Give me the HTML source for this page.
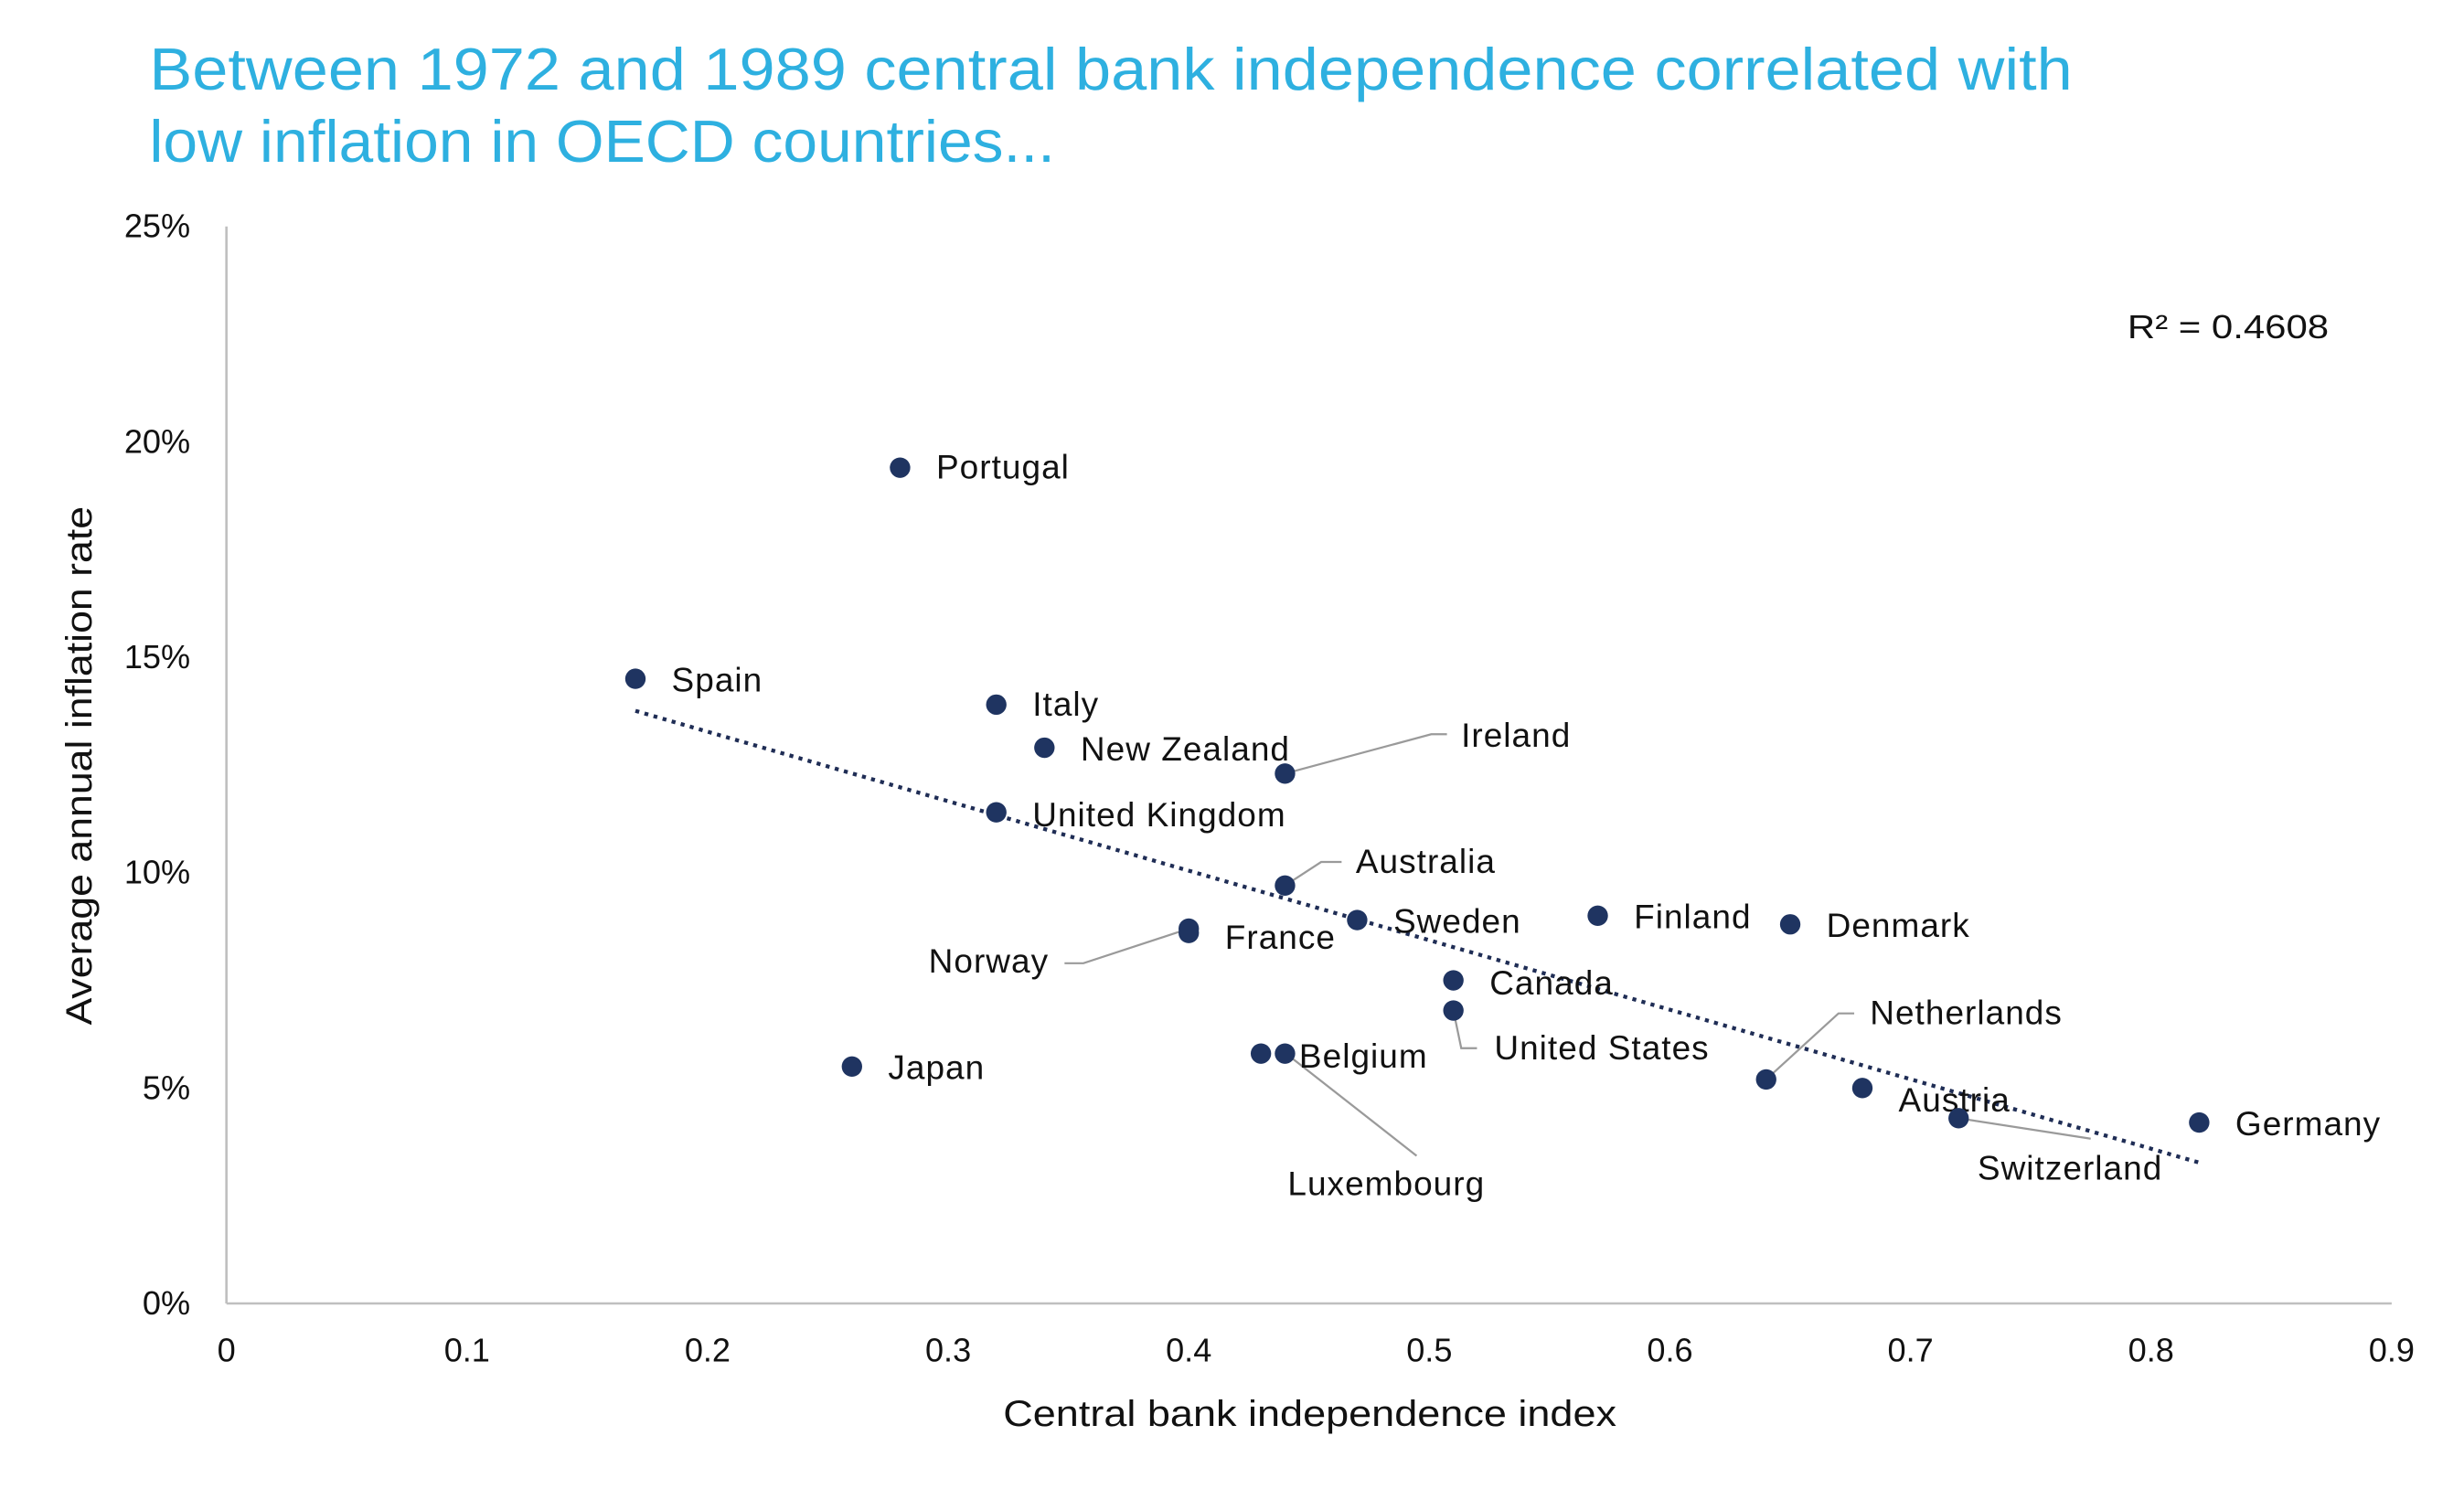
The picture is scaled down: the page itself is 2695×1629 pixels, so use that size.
<!DOCTYPE html>
<html><head><meta charset="utf-8"><style>
html,body{margin:0;padding:0;background:#fff;}
svg{display:block;font-family:"Liberation Sans",sans-serif;}
</style></head><body>
<svg id="chart" width="2695" height="1629" viewBox="0 0 1567 947" preserveAspectRatio="none">
<text x="95" y="57" font-size="38" fill="#2eb0e0" textLength="1223" lengthAdjust="spacingAndGlyphs">Between 1972 and 1989 central bank independence correlated with</text>
<text x="95" y="103" font-size="38" fill="#2eb0e0" textLength="576" lengthAdjust="spacingAndGlyphs">low inflation in OECD countries...</text>
<g id="axes"></g>
<g id="trend"></g>
<g id="leaders"></g>
<g id="points"></g>
<text x="1353" y="215" font-size="21" fill="#111" textLength="128" lengthAdjust="spacingAndGlyphs">R² = 0.4608</text>
<text x="638" y="907" font-size="23" fill="#111" textLength="390" lengthAdjust="spacingAndGlyphs">Central bank independence index</text>
<text transform="translate(58,652) rotate(-90)" font-size="23" fill="#111" textLength="330" lengthAdjust="spacingAndGlyphs">Average annual inflation rate</text>
</svg>
<script>
const countries=["Portugal","Spain","Italy","New Zealand","Ireland","United Kingdom","Australia","Sweden","Finland","Denmark","France","Norway","Canada","United States","Japan","Belgium","Luxembourg","Netherlands","Austria","Switzerland","Germany"];
const cbiIndex=[0.28,0.17,0.32,0.34,0.44,0.32,0.44,0.47,0.57,0.65,0.40,0.40,0.51,0.51,0.26,0.44,0.43,0.64,0.68,0.72,0.82];
const inflation=[19.4,14.5,13.9,12.9,12.3,11.4,9.7,8.9,9.0,8.8,8.6,8.7,7.5,6.8,5.5,5.8,5.8,5.2,5.0,4.3,4.2];
const xTicks=[0,0.1,0.2,0.3,0.4,0.5,0.6,0.7,0.8,0.9];
const yTicks=[0,5,10,15,20,25];
const X=v=>144+v/0.9*1377, Y=v=>829-v/25*685;
const NS="http://www.w3.org/2000/svg";
function mk(t,a,p){const e=document.createElementNS(NS,t);for(const k in a)e.setAttribute(k,a[k]);p.appendChild(e);return e;}
const axes=document.getElementById('axes');
const yl=mk('line',{x1:144,y1:144,x2:144,y2:829,stroke:'#bfbfbf','stroke-width':1.5},axes);


const xl=mk('line',{x1:144,y1:829,x2:1521,y2:829,stroke:'#bfbfbf','stroke-width':1.5},axes);


xTicks.forEach(t=>{const e=mk('text',{x:X(t),y:866,'font-size':21,'text-anchor':'middle',fill:'#111'},axes);e.textContent=String(t);

});
yTicks.forEach(t=>{const e=mk('text',{x:121,y:Y(t)+7,'font-size':21,'text-anchor':'end',fill:'#111'},axes);e.textContent=t+'%';

});
const n=cbiIndex.length;let sx=0,sy=0,sxx=0,sxy=0;
for(let i=0;i<n;i++){sx+=cbiIndex[i];sy+=inflation[i];sxx+=cbiIndex[i]**2;sxy+=cbiIndex[i]*inflation[i];}
const b=(n*sxy-sx*sy)/(n*sxx-sx*sx),a=(sy-b*sx)/n;
const xmin=Math.min(...cbiIndex),xmax=Math.max(...cbiIndex);
const tl=mk('line',{x1:X(xmin),y1:Y(a+b*xmin),x2:X(xmax),y2:Y(a+b*xmax),stroke:'#1f2d55','stroke-width':2.5,'stroke-dasharray':'2.5 3.5'},document.getElementById('trend'));


const labelOff={"Portugal":[23,7],"Spain":[23,8],"Italy":[23,7],"New Zealand":[23,8],"Ireland":[112,-17],"United Kingdom":[23,9],"Australia":[45,-8],"Sweden":[23,8],"Finland":[23,8],"Denmark":[23,8],"France":[23,10],"Norway":[-89,28],"Canada":[23,9],"United States":[26,31],"Japan":[23,8],"Belgium":[9,9],"Luxembourg":[17,90],"Netherlands":[66,-35],"Austria":[23,15],"Switzerland":[12,39],"Germany":[23,8]};
const leader={"Ireland":[[0,0],[93,-25],[103,-25]],"Australia":[[0,0],[23,-15],[36,-15]],"Norway":[[0,0],[-67,22],[-79,22]],"United States":[[0,0],[5,24],[15,24]],"Netherlands":[[0,0],[46,-42],[56,-42]],"Luxembourg":[[16,0],[99,65]],"Switzerland":[[0,0],[84,13]]};
const lg=document.getElementById('leaders'),pg=document.getElementById('points');
countries.forEach((c,i)=>{
 const px=X(cbiIndex[i]),py=Y(inflation[i]);
 if(leader[c]){const pl=mk('polyline',{points:leader[c].map(p=>(px+p[0])+','+(py+p[1])).join(' '),fill:'none',stroke:'#9a9a9a','stroke-width':1.3},lg);
 
 }
 const d=mk('circle',{cx:px,cy:py,r:6.5,fill:'#1f3461'},pg);
 
 
 const o=labelOff[c];
 const t=mk('text',{x:px+o[0],y:py+o[1],'font-size':21.5,'letter-spacing':0.6,fill:'#111','text-anchor':c==='Norway'?'end':'start'},pg);
 t.textContent=c;
 
 
});
</script>
</body></html>
